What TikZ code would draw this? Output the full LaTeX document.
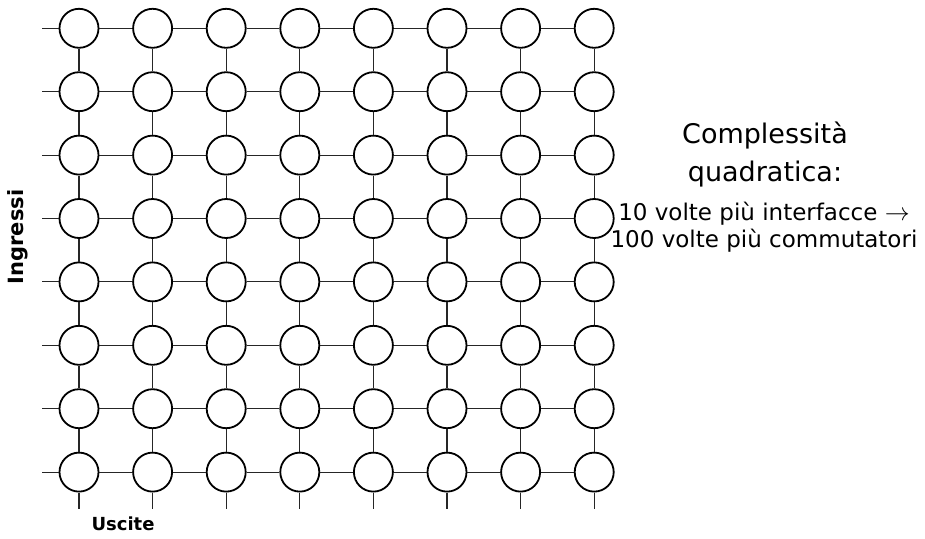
\documentclass[tikz,border=0pt]{standalone}
\usepackage{fontspec}
\setmainfont{DejaVu Sans}
\usetikzlibrary{positioning}
\tikzset{
  xpoint/.style={draw, circle, minimum size=39pt, inner sep=0pt, line width=1.8pt},
  xwire/.style={line width=1.1pt, black!85},
  axislabel/.style={font=\fontsize{18}{21}\selectfont\bfseries},
  notetitle/.style={font=\fontsize{27}{38}\selectfont, align=center},
  notetext/.style={font=\fontsize{23}{27}\selectfont, align=center}
}

\begin{document}
\begin{tikzpicture}[x=1pt, y=-1pt]
  \useasboundingbox (0,0) rectangle (925,538);
  % crosspoints of the 8x8 switch
  \foreach \r in {1,...,8}{
    \foreach \c in {1,...,8}{
      \node[xpoint] (c-\r-\c) at ({79+73.6*(\c-1)}, {28.3+63.4*(\r-1)}) {};
    }
  }
  % input lines
  \foreach \r in {1,...,8}{
    \coordinate (in-\r) at (42, {28.3+63.4*(\r-1)});
    \draw[xwire] (in-\r) -- (c-\r-1);
    \foreach \c [evaluate=\c as \n using int(\c+1)] in {1,...,7}
      \draw[xwire] (c-\r-\c) -- (c-\r-\n);
  }
  % output lines
  \foreach \c in {1,...,8}{
    \coordinate (out-\c) at ({79+73.6*(\c-1)}, 509);
    \draw[xwire] (c-8-\c) -- (out-\c);
    \foreach \r [evaluate=\r as \n using int(\r+1)] in {1,...,7}
      \draw[xwire] (c-\r-\c) -- (c-\n-\c);
  }
  \node[axislabel, font=\fontsize{21}{24}\selectfont\bfseries, rotate=90] (ingressi) at (18,237) {Ingressi};
  \node[axislabel] (uscite) at (123,524) {Uscite};
  \node[notetitle] (title) at (765,155) {Complessità\\quadratica:};
  \node[notetext] (note) at (764,227) {10 volte più interfacce $\rightarrow$\\100 volte più commutatori};
\end{tikzpicture}
\end{document}
